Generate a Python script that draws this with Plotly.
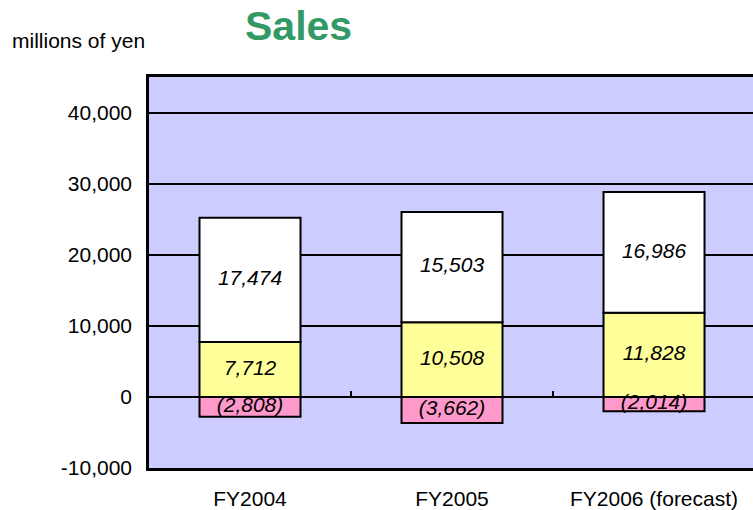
import plotly.graph_objects as go

categories = ["FY2004", "FY2005", "FY2006 (forecast)"]
negative_vals = [-2808, -3662, -2014]
yellow_vals = [7712, 10508, 11828]
white_vals = [17474, 15503, 16986]
y_ticks = [-10000, 0, 10000, 20000, 30000, 40000]
y_tick_labels = ["-10,000", "0", "10,000", "20,000", "30,000", "40,000"]
boundaries = [0.5, 1.5]

FONT = "Liberation Sans, Arial, sans-serif"

def fmt(v):
    return f"({abs(v):,})" if v < 0 else f"{v:,}"

fig = go.Figure()
line = dict(color="black", width=2)
fig.add_trace(go.Bar(x=categories, y=negative_vals, marker=dict(color="#FF99CC", line=line),
                     width=0.5, showlegend=False, hoverinfo="skip"))
fig.add_trace(go.Bar(x=categories, y=yellow_vals, marker=dict(color="#FFFF99", line=line),
                     width=0.5, showlegend=False, hoverinfo="skip"))
fig.add_trace(go.Bar(x=categories, y=white_vals, marker=dict(color="#FFFFFF", line=line),
                     width=0.5, showlegend=False, hoverinfo="skip"))

# labels at segment midpoints
lab_x, lab_y, lab_t = [], [], []
for c, n, yv, w in zip(categories, negative_vals, yellow_vals, white_vals):
    lab_x += [c, c, c]
    lab_y += [n / 2, yv / 2, yv + w / 2]
    lab_t += [fmt(n), fmt(yv), fmt(w)]
fig.add_trace(go.Scatter(x=lab_x, y=lab_y, text=lab_t, mode="text",
                         textfont=dict(family=FONT, size=21, color="black", style="italic"),
                         showlegend=False, hoverinfo="skip", cliponaxis=False))

# boundary ticks on the zero line
fig.add_trace(go.Scatter(x=boundaries, y=[0] * len(boundaries), xaxis="x2", mode="markers",
                         marker=dict(size=1, opacity=0), showlegend=False, hoverinfo="skip"))

ymin, ymax = -10000, 45000
fig.update_layout(
    width=753, height=510,
    margin=dict(l=149, r=0, t=77, b=42),
    paper_bgcolor="white", plot_bgcolor="#CCCCFF",
    barmode="relative", bargap=0.5,
    font=dict(family=FONT, size=21, color="black"),
    xaxis=dict(type="category", range=[-0.5, 2.49], showline=True, mirror=True,
               linecolor="black", linewidth=2.5, ticks="", showgrid=False, automargin=False,
               tickfont=dict(size=21), ticklabelstandoff=10),
    xaxis2=dict(overlaying="x", anchor="free", position=(0 - ymin) / (ymax - ymin),
                range=[-0.5, 2.49], type="linear", tickvals=boundaries, ticks="inside",
                ticklen=6, tickwidth=1.5, tickcolor="black", showticklabels=False,
                showline=False, showgrid=False, zeroline=False, automargin=False),
    yaxis=dict(range=[ymin, ymax], tickvals=y_ticks, ticktext=y_tick_labels, showgrid=True,
               gridcolor="black", gridwidth=1.5, zeroline=True, zerolinecolor="black",
               zerolinewidth=1.5, showline=True, linecolor="black", linewidth=2.5,
               ticks="", ticklabelstandoff=10, tickfont=dict(size=21), automargin=False),
    annotations=[
        dict(text="<b>Sales</b>", xref="paper", yref="paper", x=(298 - 149) / 604,
             y=(468 - 26) / 391, xanchor="center", yanchor="middle", showarrow=False,
             font=dict(family=FONT, size=41, color="#339966")),
        dict(text="millions of yen", xref="paper", yref="paper", x=(10 - 149) / 604,
             y=(468 - 40) / 391, xanchor="left", yanchor="middle", showarrow=False,
             font=dict(family=FONT, size=21, color="black")),
    ],
)

fig.write_html("out.html", config={"displayModeBar": False},
               post_script="document.body.style.margin='0';document.body.style.overflow='hidden';")
